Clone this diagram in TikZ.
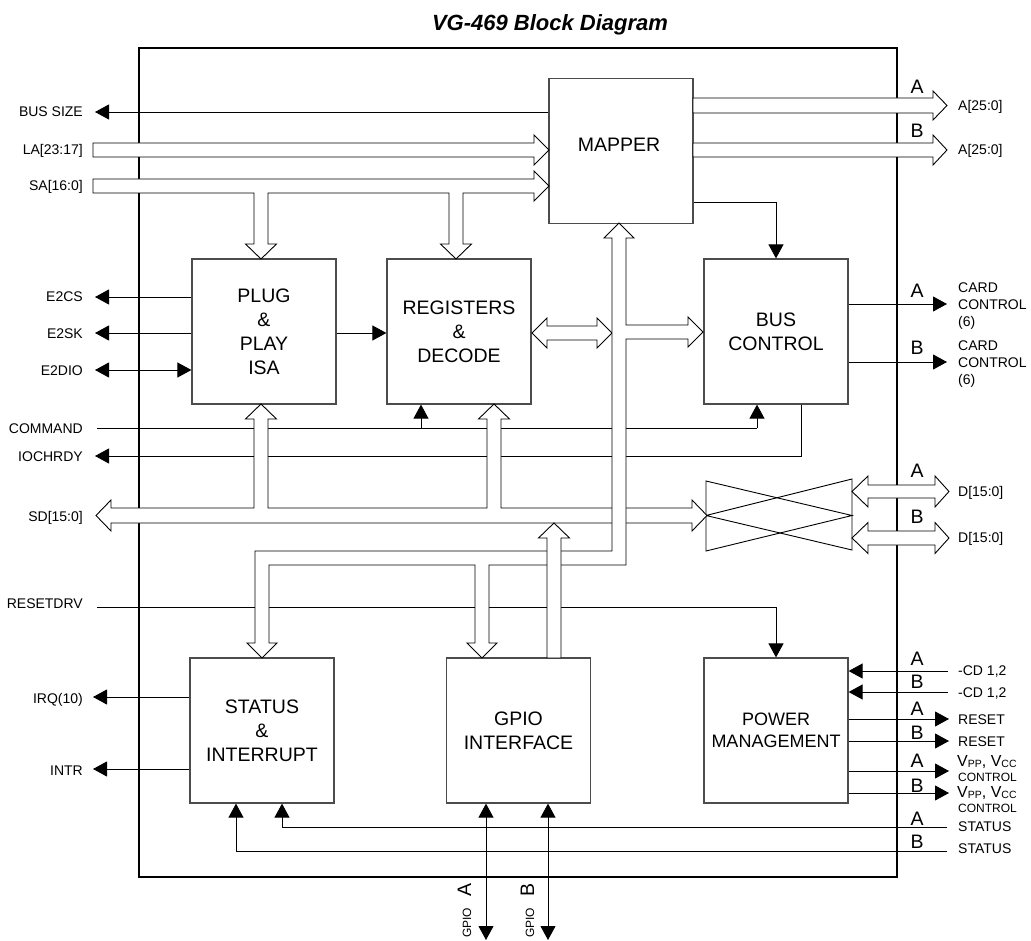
\documentclass[tikz,border=0pt]{standalone}
\usepackage{fontspec}
\setmainfont{Liberation Sans}
\usetikzlibrary{arrows.meta}
\begin{document}
\begin{tikzpicture}[x=1pt,y=-1pt,
  blk/.style={draw=black!70, line width=1.2pt, minimum width=144pt, minimum height=145pt, inner sep=0pt, align=center, font=\fontsize{19.5}{24}\selectfont},
  blktxt/.style={inner sep=0pt, align=center, font=\fontsize{19.5}{24}\selectfont},
  lbl/.style={inner sep=0pt, font=\fontsize{14}{17}\selectfont},
  ab/.style={inner sep=0pt, font=\fontsize{19.5}{20}\selectfont},
  sig/.style={draw=black, line width=0.9pt, -{Triangle[length=14pt,width=15pt]}},
  dsig/.style={draw=black, line width=0.9pt, {Triangle[length=14pt,width=15pt]}-{Triangle[length=14pt,width=15pt]}},
  wire/.style={draw=black, line width=0.9pt},
  bus/.style={draw=black, fill=white, line width=0.9pt, line join=miter}]
\useasboundingbox (0,0) rectangle (1031,941);
\fill[white] (0,0) rectangle (1031,941);

% title
\node[inner sep=0pt, font=\fontsize{22}{24}\selectfont\bfseries\itshape, anchor=base] (title) at (550,31) {VG-469 Block Diagram};

% frame
\draw[line width=2pt] (139,48) rectangle (897,877);

% blocks
\node[blk] (mapper) at (621,151) {};
\node[blktxt] (mappertxt) at (619,145) {MAPPER};
\node[blk] (plug) at (264,331.5) {PLUG\\\&\\PLAY\\ISA};
\node[blk] (regs) at (459,331.5) {REGISTERS\\\&\\DECODE};
\node[blk] (busctl) at (776,331.5) {BUS\\CONTROL};
\node[blk] (status) at (262,730.5) {STATUS\\\&\\INTERRUPT};
\node[blk] (gpio) at (518.5,730.5) {GPIO\\INTERFACE};
\node[blk, font=\fontsize{18}{22}\selectfont] (pm) at (776,730.5) {POWER\\MANAGEMENT};

% thin signals (left)
\draw[sig] (mapper.west |- 0,112) -- (95,112);
\draw[sig] (plug.west |- 0,297) -- (95,297);
\draw[sig] (plug.west |- 0,333) -- (95,333);
\draw[dsig] (95,370) -- (plug.west |- 0,370);
\draw[sig] (plug.east |- 0,333) -- (regs.west |- 0,333);
\draw[wire] (97,428) -- (757,428);
\draw[sig] (757,428) -- (busctl.south -| 757,0);
\draw[sig] (421,428) -- (regs.south -| 421,0);
\draw[sig] (busctl.south -| 801,0) -- (801,456) -- (95,456);
\draw[sig] (97,607) -- (776,607) -- (pm.north);
\draw[sig] (mapper.east |- 0,202) -- (776,202) -- (busctl.north);
\draw[sig] (status.west |- 0,697) -- (93,697);
\draw[sig] (status.west |- 0,769) -- (93,769);

% thin signals (right)
\draw[sig] (busctl.east |- 0,304) -- (947,304);
\draw[sig] (busctl.east |- 0,362) -- (947,362);
\draw[sig] (948,671) -- (pm.east |- 0,671);
\draw[sig] (948,692) -- (pm.east |- 0,692);
\draw[sig] (pm.east |- 0,719) -- (949,719);
\draw[sig] (pm.east |- 0,741) -- (949,741);
\draw[sig] (pm.east |- 0,771) -- (949,771);
\draw[sig] (pm.east |- 0,793) -- (949,793);
\draw[sig] (947,827) -- (282,827) -- (status.south -| 282,0);
\draw[sig] (947,851) -- (236,851) -- (status.south -| 236,0);
\draw[dsig] (gpio.south -| 486,0) -- (486,940);
\draw[dsig] (gpio.south -| 548,0) -- (548,940);

% transceiver
\draw[wire] (706,481) -- (852,515.5) -- (706,551) -- cycle;
\draw[wire] (852,479) -- (706,515.5) -- (852,550) -- cycle;

% buses
\draw[bus] (93,143) -- (534,143) -- (534,135) -- (549,150) -- (534,165) -- (534,157) -- (93,157) -- cycle;
\draw[bus] (93,179) -- (534,179) -- (534,171) -- (549,186) -- (534,201) -- (534,193) -- (463,193) -- (463,244) -- (471.5,244) -- (456,259) -- (440.5,244) -- (449,244) -- (449,193) -- (268,193) -- (268,244) -- (276.5,244) -- (261,259) -- (245.5,244) -- (254,244) -- (254,193) -- (93,193) -- cycle;
\draw[bus] (693,98) -- (933,98) -- (933,91) -- (947,105.5) -- (933,120) -- (933,113) -- (693,113) -- cycle;
\draw[bus] (693,143) -- (933,143) -- (933,135) -- (947,150) -- (933,165) -- (933,157) -- (693,157) -- cycle;
\draw[bus] (96,515.5) -- (111,500) -- (111,508) -- (254,508) -- (254,419) -- (245.5,419) -- (261,404) -- (276.5,419) -- (268,419) -- (268,508) -- (487,508) -- (487,419) -- (478.5,419) -- (494,404) -- (509.5,419) -- (501,419) -- (501,508) -- (692,508) -- (692,500) -- (707,515.5) -- (692,531) -- (692,523) -- (111,523) -- (111,531) -- cycle;
\draw[bus] (532,333) -- (547,318) -- (547,326) -- (597,326) -- (597,318) -- (612,333) -- (597,348) -- (597,340) -- (547,340) -- (547,348) -- cycle;
\draw[bus] (619,223) -- (634,238) -- (626,238) -- (626,325) -- (688,325) -- (688,317) -- (703,332) -- (688,347) -- (688,339) -- (626,339) -- (626,565) -- (489,565) -- (489,643) -- (497,643) -- (482,658) -- (467,643) -- (475,643) -- (475,565) -- (269,565) -- (269,643) -- (277,643) -- (262,658) -- (247,643) -- (255,643) -- (255,551) -- (612,551) -- (612,238) -- (604,238) -- cycle;
\draw[bus] (547,658) -- (547,538) -- (538.5,538) -- (554,523) -- (569.5,538) -- (561,538) -- (561,658) -- cycle;
\draw[bus] (852,491.5) -- (868,476) -- (868,485) -- (935,485) -- (935,476) -- (949,491.5) -- (935,507) -- (935,498) -- (868,498) -- (868,507) -- cycle;
\draw[bus] (852,538) -- (868,522.5) -- (868,531) -- (935,531) -- (935,522.5) -- (949,538) -- (935,553.5) -- (935,545) -- (868,545) -- (868,553.5) -- cycle;

% left labels
\node[lbl, anchor=base east] (lbs) at (83,117) {BUS SIZE};
\node[lbl, anchor=base east] (lla) at (83,155) {LA[23:17]};
\node[lbl, anchor=base east] (lsa) at (83,191) {SA[16:0]};
\node[lbl, anchor=base east] (lcs) at (83,302) {E2CS};
\node[lbl, anchor=base east] (lsk) at (83,338) {E2SK};
\node[lbl, anchor=base east] (ldio) at (83,375) {E2DIO};
\node[lbl, anchor=base east] (lcmd) at (83,433) {COMMAND};
\node[lbl, anchor=base east] (lio) at (83,461) {IOCHRDY};
\node[lbl, anchor=base east] (lsd) at (83,521) {SD[15:0]};
\node[lbl, anchor=base east] (lrst) at (83,608) {RESETDRV};
\node[lbl, anchor=base east] (lirq) at (83,703) {IRQ(10)};
\node[lbl, anchor=base east] (lintr) at (83,775) {INTR};

% right labels
\node[lbl, anchor=base west] (ra1) at (958,110.5) {A[25:0]};
\node[lbl, anchor=base west] (ra2) at (958,155) {A[25:0]};
\node[lbl, anchor=west, align=left] (rc1) at (958,306) {CARD\\CONTROL\\(6)};
\node[lbl, anchor=west, align=left] (rc2) at (958,364) {CARD\\CONTROL\\(6)};
\node[lbl, anchor=base west] (rd1) at (958,496) {D[15:0]};
\node[lbl, anchor=base west] (rd2) at (958,542) {D[15:0]};
\node[lbl, anchor=base west] (rcd1) at (958,675) {-CD 1,2};
\node[lbl, anchor=base west] (rcd2) at (958,697) {-CD 1,2};
\node[lbl, anchor=base west] (rr1) at (958,724) {RESET};
\node[lbl, anchor=base west] (rr2) at (958,746) {RESET};
\node[inner sep=0pt, anchor=base west, font=\fontsize{16}{16}\selectfont] (rv1) at (957,766) {V\raisebox{-1.5pt}{\fontsize{10.5}{11}\selectfont PP}, V\raisebox{-1.5pt}{\fontsize{10.5}{11}\selectfont CC}};
\node[inner sep=0pt, anchor=base west, font=\fontsize{12}{12}\selectfont] (rvc1) at (958,781) {CONTROL};
\node[inner sep=0pt, anchor=base west, font=\fontsize{16}{16}\selectfont] (rv2) at (957,797) {V\raisebox{-1.5pt}{\fontsize{10.5}{11}\selectfont PP}, V\raisebox{-1.5pt}{\fontsize{10.5}{11}\selectfont CC}};
\node[inner sep=0pt, anchor=base west, font=\fontsize{12}{12}\selectfont] (rvc2) at (958,812) {CONTROL};
\node[lbl, anchor=base west] (rs1) at (958,831) {STATUS};
\node[lbl, anchor=base west] (rs2) at (958,853) {STATUS};

% A / B letters
\foreach \yy/\tt [count=\i] in {94/A,138/B,298/A,355/B,477/A,523/B,665/A,688/B,715/A,739/B,767/A,792/B,825/A,848/B}
  \node[ab, anchor=base] (ab\i) at (917,\yy) {\tt};

% GPIO labels
\node[rotate=90, anchor=base west, inner sep=0pt] (ga) at (471,938) {{\fontsize{12}{12}\selectfont GPIO}\hspace{11pt}{\fontsize{19.5}{20}\selectfont A}};
\node[rotate=90, anchor=base west, inner sep=0pt] (gb) at (534,938) {{\fontsize{12}{12}\selectfont GPIO}\hspace{11pt}{\fontsize{19.5}{20}\selectfont B}};
\end{tikzpicture}
\end{document}
